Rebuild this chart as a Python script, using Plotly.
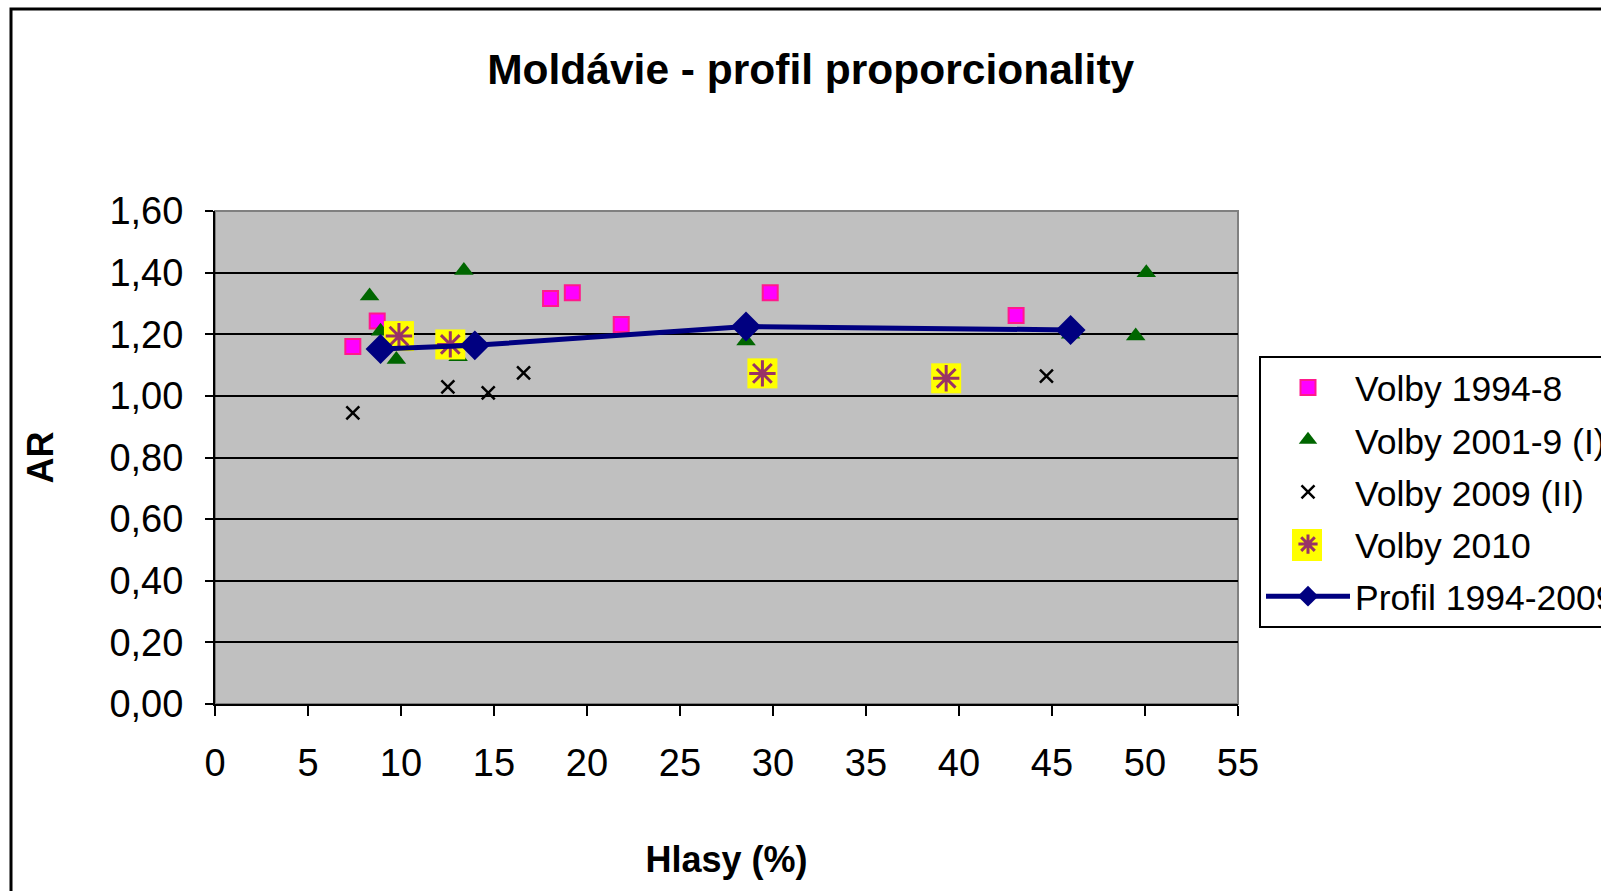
import plotly.graph_objects as go

# ---- data ----
v1994_x = [7.41, 8.72, 18.04, 19.21, 21.84, 29.85, 43.07]
v1994_y = [1.160, 1.243, 1.316, 1.335, 1.232, 1.335, 1.261]

v2001_x = [8.31, 8.90, 9.75, 12.40, 13.07, 13.38, 28.55, 46.00, 49.50, 50.07]
v2001_y = [1.324, 1.210, 1.118, 1.180, 1.127, 1.407, 1.178, 1.200, 1.194, 1.400]

v2009_x = [7.41, 12.52, 14.69, 16.59, 44.70]
v2009_y = [0.945, 1.029, 1.010, 1.075, 1.064]

v2010_x = [9.89, 12.65, 29.43, 39.31]
v2010_y = [1.194, 1.167, 1.073, 1.057]

prof_x = [8.90, 13.97, 28.55, 46.00]
prof_y = [1.152, 1.164, 1.225, 1.214]

x_ticks = [0, 5, 10, 15, 20, 25, 30, 35, 40, 45, 50, 55]
y_ticks = [0, 0.2, 0.4, 0.6, 0.8, 1.0, 1.2, 1.4, 1.6]

FONT = "Liberation Sans, Arial, sans-serif"

fig = go.Figure()

fig.add_trace(go.Scatter(
    x=v1994_x, y=v1994_y, mode="markers", name="Volby 1994-8",
    legendgroup="a",
    marker=dict(symbol="square", size=15, color="#FF00FF",
                line=dict(color="#FF1A8C", width=2)),
))
fig.add_trace(go.Scatter(
    x=v2001_x, y=v2001_y, mode="markers", name="Volby 2001-9 (I)",
    legendgroup="b",
    marker=dict(symbol="triangle-up", size=17, color="#006600",
                line=dict(width=0)),
))
fig.add_trace(go.Scatter(
    x=v2009_x, y=v2009_y, mode="markers", name="Volby 2009 (II)",
    legendgroup="c",
    marker=dict(symbol="x-thin-open", size=13, color="black",
                line=dict(color="black", width=2.5)),
))
# yellow background square of the 2010 markers
fig.add_trace(go.Scatter(
    x=v2010_x, y=v2010_y, mode="markers", name="Volby 2010",
    legendgroup="d", showlegend=False,
    marker=dict(symbol="square", size=30, color="#FFFF00",
                line=dict(width=0)),
))
fig.add_trace(go.Scatter(
    x=v2010_x, y=v2010_y, mode="markers", name="Volby 2010",
    legendgroup="d",
    marker=dict(symbol="asterisk-open", size=22, color="#993366",
                line=dict(color="#993366", width=3)),
))
fig.add_trace(go.Scatter(
    x=prof_x, y=prof_y, mode="lines+markers", name="Profil 1994-2009",
    legendgroup="e",
    line=dict(color="#000080", width=5),
    marker=dict(symbol="diamond", size=23, color="#000080",
                line=dict(width=0)),
))

W, H = 1601, 891
L, T = 215, 211
pw, ph = 1023, 493
R = W - L - pw
B = H - T - ph

def px_x(p):
    return (p - L) / pw

def px_y(p):
    return (T + ph - p) / ph

fig.update_layout(
    width=W, height=H,
    margin=dict(l=L, r=R, t=T, b=B, autoexpand=False),
    paper_bgcolor="white",
    plot_bgcolor="#C0C0C0",
    separators=",.",
    font=dict(family=FONT, color="black", size=36),
    title=dict(text="<b>Moldávie - profil proporcionality</b>",
               x=810.7 / W, xanchor="center", xref="container",
               y=1 - 69.4 / H, yanchor="middle", yref="container",
               font=dict(family=FONT, size=42.5, color="black")),
    xaxis=dict(range=[0, 55], tickvals=x_ticks, ticks="outside", ticklen=10,
               tickwidth=2, tickcolor="black", showline=True, linecolor="black",
               linewidth=2, showgrid=False, zeroline=False,
               ticklabelstandoff=14,
               tickfont=dict(family=FONT, size=38),
               title=dict(text="<b>Hlasy (%)</b>", standoff=64,
                          font=dict(family=FONT, size=36))),
    yaxis=dict(range=[0, 1.6], tickvals=y_ticks, tickformat=".2f",
               ticks="outside", ticklen=8, tickwidth=2, tickcolor="black",
               showline=True, linecolor="black", linewidth=2,
               showgrid=True, gridcolor="black", gridwidth=2, zeroline=False,
               ticklabelstandoff=14,
               tickfont=dict(family=FONT, size=38),
               title=dict(text="<b>AR</b>", standoff=45,
                          font=dict(family=FONT, size=36))),
    legend=dict(x=px_x(1259), xanchor="left", y=px_y(356), yanchor="top",
                bgcolor="rgba(0,0,0,0)", bordercolor="black", borderwidth=2,
                font=dict(family=FONT, size=35.5, color="black"),
                itemsizing="trace", itemwidth=84, traceorder="grouped",
                tracegroupgap=3),
    showlegend=True,
)

# plot-area border (grey)
fig.add_shape(type="rect", xref="paper", yref="paper", x0=0, x1=1, y0=0, y1=1,
              line=dict(color="#808080", width=2), layer="below")
# yellow backing of the "Volby 2010" legend symbol
fig.add_shape(type="rect", xref="paper", yref="paper",
              x0=px_x(1307 - 15), x1=px_x(1307 + 15),
              y0=px_y(545 + 16), y1=px_y(545 - 16),
              fillcolor="#FFFF00", line=dict(width=0), layer="below")
# outer chart border
fig.add_shape(type="rect", xref="paper", yref="paper",
              x0=px_x(11), x1=px_x(1660), y0=px_y(950), y1=px_y(9),
              line=dict(color="black", width=3))

fig.write_html("out.html", config={"displayModeBar": False},
               post_script="document.body.style.margin='0px';")
